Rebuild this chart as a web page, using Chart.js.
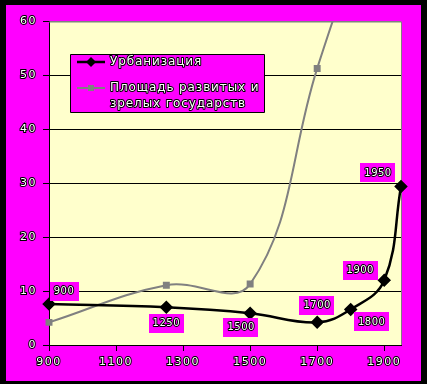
<!DOCTYPE html>
<html>
<head>
<meta charset="utf-8">
<script src="https://cdn.jsdelivr.net/npm/chart.js@4/dist/chart.umd.min.js"></script>
<style>
  body { margin: 0; background: #000; }
  canvas { display: block; }
</style>
</head>
<body>
<canvas id="chart" width="427" height="384"></canvas>
<script>
// years on the x axis
const xTicks = [900, 1100, 1300, 1500, 1700, 1900];
const yTicks = [0, 10, 20, 30, 40, 50, 60];

// Урбанизация
const urbYears = [900, 1250, 1500, 1700, 1800, 1900, 1950];
const urbValues = [7.6, 7.0, 5.9, 4.2, 6.6, 12.0, 29.4];

// Площадь развитых и зрелых государств
const areaYears = [900, 1250, 1500, 1700, 1800];
const areaValues = [4.2, 11.1, 11.3, 51.3, 70];

const seriesNames = ['Урбанизация', 'Площадь развитых и\nзрелых государств'];

// where each year label box sits relative to its point
const labelOffsets = [[15, -13], [0, 16], [-9, 14], [0, -17], [21, 12], [-24, -10], [-23, -14]];

const FONT = 'DejaVu Sans';

function outlinedText(ctx, text, x, y) {
  ctx.lineWidth = 2;
  ctx.strokeStyle = '#000';
  ctx.lineJoin = 'round';
  ctx.strokeText(text, x, y);
  ctx.fillStyle = '#fff';
  ctx.fillText(text, x, y);
}

const framePlugin = {
  id: 'frame',
  beforeDraw(chart) {
    const ctx = chart.ctx;
    const a = chart.chartArea;
    ctx.save();
    ctx.fillStyle = '#000';
    ctx.fillRect(0, 0, chart.width, chart.height);
    ctx.fillStyle = '#ff00ff';
    ctx.fillRect(6, 5, 415, 376);
    ctx.fillStyle = '#ffffcc';
    ctx.fillRect(a.left, a.top, a.right - a.left, a.bottom - a.top);
    ctx.restore();
    ctx.letterSpacing = '1.5px';
  },
  beforeDatasetsDraw(chart) {
    const ctx = chart.ctx;
    const a = chart.chartArea;
    ctx.save();
    ctx.strokeStyle = '#808080';
    ctx.lineWidth = 1;
    ctx.beginPath();
    ctx.moveTo(a.left, a.top + 0.5);
    ctx.lineTo(a.right + 0.5, a.top + 0.5);
    ctx.lineTo(a.right + 0.5, a.bottom);
    ctx.stroke();
    ctx.restore();
  },
  afterDatasetsDraw(chart) {
    const ctx = chart.ctx;
    ctx.save();
    // year labels on urbanisation points
    ctx.font = '10px "' + FONT + '"';
    ctx.letterSpacing = '0.5px';
    ctx.textAlign = 'center';
    ctx.textBaseline = 'middle';
    const meta = chart.getDatasetMeta(0);
    meta.data.forEach((pt, i) => {
      const txt = String(urbYears[i]);
      const w = ctx.measureText(txt).width + 8;
      const h = 19;
      const cx = pt.x + labelOffsets[i][0];
      const cy = pt.y + labelOffsets[i][1];
      ctx.fillStyle = '#ff00ff';
      ctx.fillRect(Math.round(cx - w / 2), Math.round(cy - h / 2), Math.round(w), h);
      outlinedText(ctx, txt, cx, cy + 0.5);
    });

    // legend box
    const lx = 70.5, ly = 54.5, lw = 194, lh = 58;
    ctx.fillStyle = '#ff00ff';
    ctx.fillRect(lx, ly, lw, lh);
    ctx.strokeStyle = '#000';
    ctx.lineWidth = 1;
    ctx.strokeRect(lx, ly, lw, lh);

    ctx.font = '12px "' + FONT + '"';
    ctx.letterSpacing = '0.9px';
    ctx.textAlign = 'left';
    const rows = [62, 88];
    chart.data.datasets.forEach((ds, i) => {
      const y = rows[i];
      ctx.strokeStyle = ds.borderColor;
      ctx.lineWidth = ds.borderWidth;
      ctx.beginPath();
      ctx.moveTo(77, y);
      ctx.lineTo(105, y);
      ctx.stroke();
      ctx.fillStyle = ds.borderColor;
      if (i === 0) {
        ctx.beginPath();
        ctx.moveTo(91, y - 5);
        ctx.lineTo(96, y);
        ctx.lineTo(91, y + 5);
        ctx.lineTo(86, y);
        ctx.closePath();
        ctx.fill();
      } else {
        ctx.fillRect(88, y - 3, 6, 6);
      }
      seriesNames[i].split('\n').forEach((line, k) => {
        outlinedText(ctx, line, 110, y + k * 16);
      });
    });
    ctx.restore();
  }
};

const config = {
  type: 'line',
  data: {
    datasets: [
      {
        label: seriesNames[0],
        data: urbYears.map((x, i) => ({ x: x, y: urbValues[i] })),
        borderColor: '#000',
        backgroundColor: '#000',
        borderWidth: 2.5,
        pointStyle: 'rectRot',
        pointRadius: 5,
        tension: 0.4,
        clip: { left: 10, right: 10, top: 0, bottom: 10 }
      },
      {
        label: seriesNames[1],
        data: areaYears.map((x, i) => ({ x: x, y: areaValues[i] })),
        borderColor: '#808080',
        backgroundColor: '#808080',
        borderWidth: 2,
        pointStyle: 'rect',
        pointRadius: 3.5,
        tension: 0.4,
        clip: { left: 10, right: 0, top: 0, bottom: 10 }
      }
    ]
  },
  options: {
    responsive: false,
    animation: false,
    events: [],
    layout: { padding: { left: 0, top: 21.5, right: 26, bottom: 0 } },
    elements: { line: { capBezierPoints: false } },
    plugins: { legend: { display: false }, tooltip: { enabled: false } },
    scales: {
      x: {
        type: 'linear',
        min: 900,
        max: 1950,
        afterFit: s => { s.height = 39; },
        afterBuildTicks: s => { s.ticks = xTicks.map(v => ({ value: v })); },
        grid: { drawOnChartArea: false, color: '#000', tickLength: 6, tickColor: '#000' },
        border: { color: '#000', width: 1 },
        ticks: {
          font: { family: FONT, size: 11 },
          color: '#fff',
          textStrokeColor: '#000',
          textStrokeWidth: 2,
          padding: 5,
          maxRotation: 0,
          autoSkip: false,
          callback: v => String(v)
        }
      },
      y: {
        min: 0,
        max: 60,
        afterFit: s => { s.width = 49; },
        afterBuildTicks: s => { s.ticks = yTicks.map(v => ({ value: v })); },
        grid: {
          color: c => (c.tick && c.tick.value === 60 ? '#808080' : '#000'),
          tickColor: '#000',
          tickLength: 6
        },
        border: { color: '#000', width: 1 },
        ticks: {
          font: { family: FONT, size: 11 },
          color: '#fff',
          textStrokeColor: '#000',
          textStrokeWidth: 2,
          padding: 6,
          callback: v => String(v)
        }
      }
    }
  },
  plugins: [framePlugin]
};

new Chart(document.getElementById('chart'), config);
</script>
</body>
</html>
